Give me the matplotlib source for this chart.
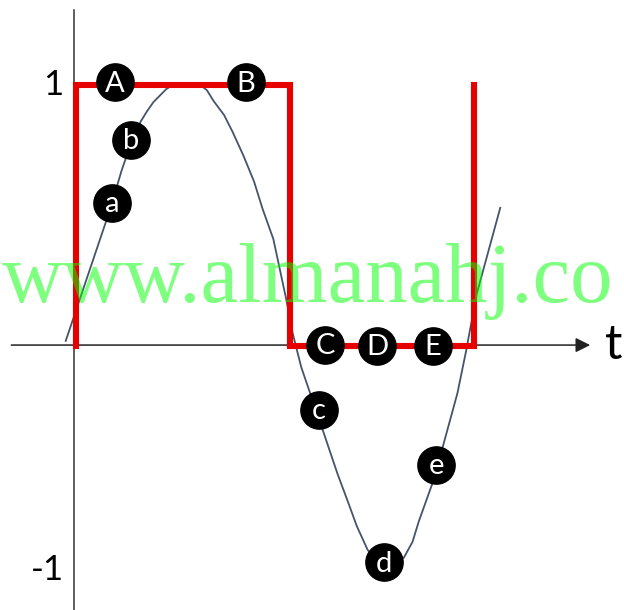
import matplotlib.pyplot as plt

# square wave (red)
sq_t = [0.0, 0.0, 1.0, 1.0, 1.855, 1.855]
sq_y = [0, 1, 1, 0, 0, 1]

# sine-like curve (blue)
sin_t = [-0.05, 0.02, 0.09, 0.16, 0.21, 0.26, 0.30, 0.33, 0.36, 0.39, 0.42, 0.45,
         0.52, 0.58, 0.61, 0.64, 0.69, 0.73, 0.78, 0.83, 0.87, 0.92, 0.98, 1.01,
         1.05, 1.10, 1.15, 1.22, 1.27, 1.31, 1.36, 1.40, 1.44, 1.49, 1.53, 1.57,
         1.60, 1.67, 1.71, 1.78, 1.82, 1.87, 1.98]
sin_y = [0.02, 0.19, 0.36, 0.53, 0.67, 0.79, 0.86, 0.90, 0.935, 0.96, 0.985, 1.0,
         1.0, 1.0, 0.98, 0.94, 0.885, 0.82, 0.73, 0.63, 0.525, 0.41, 0.18, 0.05,
         -0.08, -0.20, -0.32, -0.49, -0.60, -0.69, -0.78, -0.82, -0.84, -0.835, -0.81, -0.75,
         -0.67, -0.51, -0.39, -0.18, -0.02, 0.20, 0.53]

# circled labels
lab_txt = ['A', 'B', 'b', 'a', 'C', 'D', 'E', 'c', 'e', 'd']
lab_t = [0.18, 0.79, 0.255, 0.166, 1.161, 1.404, 1.666, 1.133, 1.68, 1.437]
lab_y = [1.01, 1.01, 0.789, 0.548, 0.004, 0.0, 0.0, -0.245, -0.456, -0.828]

ytick_pos = [1.0, -0.858]
ytick_lab = ['1', '-1']

fig = plt.figure(figsize=(6.24, 6.10), dpi=100)
ax = fig.add_axes([0, 0, 1, 1])
ax.set_xlim(-0.357, 2.558)
ax.set_ylim(-1.011, 1.326)
ax.axis('off')

# axes
ax.plot([-0.012, -0.012], [-1.011, 1.287], color='#333333', lw=1.1)
ax.annotate('', xy=(2.40, 0.004), xytext=(-0.304, 0.004),
            arrowprops=dict(arrowstyle='-|>', color='#222222', lw=1.1,
                            mutation_scale=22, shrinkA=0, shrinkB=0))
ax.text(2.47, 0.004, 't', fontsize=35, family='Lato', va='center', ha='left')
for p, l in zip(ytick_pos, ytick_lab):
    ax.text(-0.06, p, l, fontsize=25, family='Lato', va='center', ha='right')

ax.plot(sq_t, sq_y, color='#e60000', lw=4.4, solid_joinstyle='miter', zorder=3)
ax.plot(sin_t, sin_y, color='#44546a', lw=1.3, zorder=2)

ax.scatter(lab_t, lab_y, s=720, color='black', zorder=4)
for t, y, s in zip(lab_t, lab_y, lab_txt):
    ax.text(t, y - 0.005, s, color='white', fontsize=21, family='Lato',
            ha='center', va='center', zorder=5)

# watermark
fig.text(0.003, 0.505, 'www.almanahj.co', fontsize=61, family='Liberation Serif',
         color='#00ff00', alpha=0.5, va='baseline', ha='left', zorder=10)

fig.savefig('out.png')
